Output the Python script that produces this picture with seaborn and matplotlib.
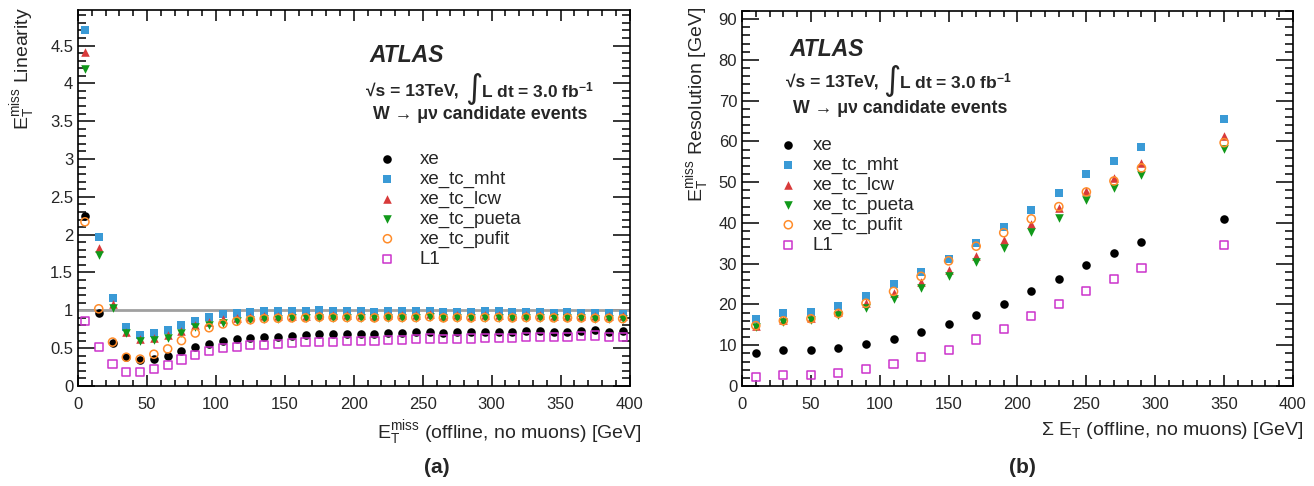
import numpy as np
import pandas as pd
import seaborn as sns
import matplotlib
matplotlib.use("Agg")
import matplotlib.pyplot as plt
from matplotlib.ticker import MultipleLocator, FuncFormatter

# --- data ---
met_bins = [5, 15, 25, 35, 45, 55, 65, 75, 85, 95, 105, 115, 125, 135, 145, 155, 165, 175, 185, 195,
            205, 215, 225, 235, 245, 255, 265, 275, 285, 295, 305, 315, 325, 335, 345, 355, 365, 375, 385, 395]

lin_xe = [2.25, 0.96, 0.565, 0.38, 0.34, 0.355, 0.39, 0.46, 0.51, 0.56, 0.595, 0.62, 0.64, 0.644, 0.653, 0.667,
          0.676, 0.684, 0.685, 0.686, 0.69, 0.69, 0.70, 0.70, 0.71, 0.72, 0.705, 0.71, 0.71, 0.715, 0.72, 0.715,
          0.725, 0.733, 0.72, 0.72, 0.725, 0.74, 0.72, 0.725]
lin_mht = [4.70, 1.97, 1.16, 0.78, 0.67, 0.70, 0.74, 0.80, 0.86, 0.91, 0.95, 0.965, 0.98, 0.985, 0.985, 0.99,
           0.99, 1.0, 0.99, 0.99, 0.99, 0.98, 0.99, 0.985, 0.985, 0.995, 0.98, 0.98, 0.975, 0.985, 0.985, 0.975,
           0.98, 0.98, 0.97, 0.975, 0.97, 0.965, 0.965, 0.955]
lin_lcw = [4.42, 1.82, 1.08, 0.72, 0.62, 0.63, 0.67, 0.73, 0.81, 0.85, 0.88, 0.90, 0.91, 0.92, 0.925, 0.93,
           0.93, 0.94, 0.935, 0.935, 0.935, 0.93, 0.94, 0.935, 0.935, 0.945, 0.93, 0.935, 0.93, 0.935, 0.935, 0.93,
           0.935, 0.935, 0.93, 0.93, 0.93, 0.925, 0.925, 0.92]
lin_pueta = [4.19, 1.73, 1.03, 0.70, 0.60, 0.61, 0.64, 0.70, 0.78, 0.80, 0.83, 0.86, 0.875, 0.885, 0.89, 0.895,
             0.895, 0.905, 0.90, 0.90, 0.90, 0.895, 0.905, 0.90, 0.90, 0.91, 0.895, 0.90, 0.895, 0.90, 0.90, 0.895,
             0.90, 0.90, 0.895, 0.895, 0.895, 0.89, 0.89, 0.885]
lin_pufit = [2.17, 1.02, 0.58, 0.38, 0.355, 0.42, 0.49, 0.60, 0.70, 0.77, 0.82, 0.855, 0.875, 0.89, 0.895, 0.90,
             0.90, 0.91, 0.905, 0.905, 0.905, 0.90, 0.91, 0.905, 0.905, 0.915, 0.90, 0.905, 0.90, 0.905, 0.905, 0.90,
             0.905, 0.905, 0.90, 0.90, 0.90, 0.895, 0.895, 0.89]
lin_l1 = [0.86, 0.52, 0.29, 0.19, 0.18, 0.23, 0.28, 0.35, 0.41, 0.465, 0.50, 0.52, 0.54, 0.547, 0.56, 0.57,
          0.578, 0.587, 0.587, 0.59, 0.60, 0.60, 0.61, 0.61, 0.618, 0.627, 0.618, 0.622, 0.627, 0.63, 0.635, 0.635,
          0.644, 0.653, 0.644, 0.648, 0.657, 0.667, 0.653, 0.653]

sumet_bins = [10, 30, 50, 70, 90, 110, 130, 150, 170, 190, 210, 230, 250, 270, 290, 350]
res_xe = [8.1, 8.8, 8.9, 9.4, 10.4, 11.5, 13.2, 15.2, 17.4, 20.1, 23.3, 26.2, 29.8, 32.7, 35.3, 41.0]
res_mht = [16.4, 17.8, 18.2, 19.7, 22.1, 25.0, 28.0, 31.1, 35.0, 38.9, 43.1, 47.3, 51.9, 55.1, 58.6, 65.5]
res_lcw = [14.8, 16.2, 16.6, 18.1, 20.4, 22.9, 25.5, 28.4, 31.8, 35.7, 39.7, 43.6, 47.9, 51.1, 54.6, 61.4]
res_pueta = [14.4, 15.7, 16.1, 17.4, 19.1, 21.4, 24.1, 27.0, 30.3, 33.8, 37.7, 41.2, 45.6, 48.5, 51.7, 58.2]
res_pufit = [14.8, 16.0, 16.5, 17.8, 20.3, 23.2, 26.9, 30.7, 34.3, 37.6, 41.0, 44.0, 47.6, 50.3, 53.5, 59.7]
res_l1 = [2.3, 2.7, 2.8, 3.2, 4.2, 5.3, 7.1, 8.9, 11.4, 14.0, 17.1, 20.1, 23.4, 26.2, 29.0, 34.6]

labels = ["xe", "xe_tc_mht", "xe_tc_lcw", "xe_tc_pueta", "xe_tc_pufit", "L1"]

# marker, colour, filled?
styles = {
    "xe": ("o", "black", True),
    "xe_tc_mht": ("s", "#3a9ad6", True),
    "xe_tc_lcw": ("^", "#d83a3a", True),
    "xe_tc_pueta": ("v", "#11991a", True),
    "xe_tc_pufit": ("o", "#ff8c2a", False),
    "L1": ("s", "#cc33cc", False),
}

sns.set_style("ticks")
plt.rcParams["font.family"] = ["Liberation Sans", "DejaVu Sans"]
plt.rcParams["mathtext.fontset"] = "custom"
plt.rcParams["mathtext.rm"] = "Liberation Sans"
plt.rcParams["mathtext.it"] = "Liberation Sans:italic"
plt.rcParams["mathtext.bf"] = "Liberation Sans:bold"
plt.rcParams["xtick.minor.visible"] = True
plt.rcParams["ytick.minor.visible"] = True

fig = plt.figure(figsize=(13.14, 4.86), dpi=100)
ax1 = fig.add_axes([0.0594, 0.2058, 0.4197, 0.7737])
ax2 = fig.add_axes([0.5647, 0.2058, 0.4193, 0.7716])


def draw(ax, x, series):
    for name, vals in zip(labels, series):
        m, c, filled = styles[name]
        if filled:
            sns.scatterplot(x=x, y=vals, ax=ax, marker=m, color=c, s=38,
                            linewidth=0, label=name, zorder=3)
        else:
            sns.scatterplot(x=x, y=vals, ax=ax, marker=m, facecolors="none",
                            edgecolor=c, s=34, linewidth=1.1, label=name, zorder=3)


def style_axes(ax, ymax, ymajor, yminor):
    ax.set_xlim(0, 400)
    ax.set_ylim(0, ymax)
    ax.xaxis.set_major_locator(MultipleLocator(50))
    ax.xaxis.set_minor_locator(MultipleLocator(10))
    ax.yaxis.set_major_locator(MultipleLocator(ymajor))
    ax.yaxis.set_minor_locator(MultipleLocator(yminor))
    ax.yaxis.set_major_formatter(FuncFormatter(lambda v, p: "%g" % v))
    ax.tick_params(which="both", direction="in", top=True, right=True, labelsize=12,
                   color="black")
    ax.tick_params(axis="y", which="major", length=12, width=1.1)
    ax.tick_params(axis="y", which="minor", length=6, width=1.1)
    ax.tick_params(axis="x", which="major", length=8, width=1.1, pad=8)
    ax.tick_params(axis="x", which="minor", length=4, width=1.1)
    for sp in ax.spines.values():
        sp.set_linewidth(1.2)
        sp.set_color("black")
    ax.set_xlabel("")
    ax.set_ylabel("")


# (a) linearity
ax1.axhline(1.0, color="#a0a0a0", lw=2, zorder=1)
draw(ax1, met_bins, [lin_xe, lin_mht, lin_lcw, lin_pueta, lin_pufit, lin_l1])

# (b) resolution
draw(ax2, sumet_bins, [res_xe, res_mht, res_lcw, res_pueta, res_pufit, res_l1])

# legends
ax1.legend(loc="upper left", bbox_to_anchor=(0.544, 0.625), frameon=False, fontsize=13.5,
           handlelength=1.0, handletextpad=1.2, labelspacing=0.14, borderpad=0, borderaxespad=0)
ax2.legend(loc="upper left", bbox_to_anchor=(0.067, 0.664), frameon=False, fontsize=13.5,
           handlelength=1.0, handletextpad=0.8, labelspacing=0.14, borderpad=0, borderaxespad=0)

style_axes(ax1, 4.97, 0.5, 0.1)
style_axes(ax2, 92, 10, 2)

# ATLAS labels: (ATLAS), (sqrt s), (integral), (L dt), (W -> mu nu)
for ax, pa, pb, pi, pl, pc in [
    (ax1, (0.529, 0.878), (0.522, 0.787), (0.718, 0.790), (0.731, 0.787), (0.535, 0.721)),
    (ax2, (0.087, 0.896), (0.079, 0.811), (0.271, 0.814), (0.285, 0.811), (0.093, 0.739)),
]:
    ax.text(*pa, "ATLAS", transform=ax.transAxes, fontsize=16.5, fontweight="bold",
            fontstyle="italic", ha="left", va="center")
    ax.text(*pb, "\u221as = 13TeV,", transform=ax.transAxes, fontsize=12.5,
            fontweight="bold", ha="left", va="center")
    ax.text(*pi, "\u222b", transform=ax.transAxes, fontsize=24, ha="center", va="center",
            family="DejaVu Sans")
    ax.text(*pl, r"L dt = 3.0 fb$^{\mathbf{-1}}$", transform=ax.transAxes, fontsize=12.5,
            fontweight="bold", ha="left", va="center")
    ax.text(*pc, "W \u2192 \u03bc\u03bd candidate events", transform=ax.transAxes,
            fontsize=12.8, fontweight="bold", ha="left", va="center")

# axis titles (ROOT style: aligned to the axis ends)
fig.text(642 / 1314, 1 - 433 / 486, r"$\mathrm{E}_{\mathrm{T}}^{\mathrm{miss}}$ (offline, no muons) [GeV]",
         ha="right", va="center", fontsize=14)
fig.text(1303 / 1314, 1 - 430 / 486, r"$\Sigma$ $\mathrm{E}_{\mathrm{T}}$ (offline, no muons) [GeV]",
         ha="right", va="center", fontsize=14)
fig.text(23 / 1314, 1 - 7 / 486, r"$\mathrm{E}_{\mathrm{T}}^{\mathrm{miss}}$ Linearity",
         rotation=90, ha="center", va="top", fontsize=14)
fig.text(697 / 1314, 1 - 7 / 486, r"$\mathrm{E}_{\mathrm{T}}^{\mathrm{miss}}$ Resolution [GeV]",
         rotation=90, ha="center", va="top", fontsize=14)

fig.text(437 / 1314, 1 - 467 / 486, "(a)", ha="center", va="center", fontsize=15, fontweight="bold")
fig.text(1022 / 1314, 1 - 467 / 486, "(b)", ha="center", va="center", fontsize=15, fontweight="bold")

fig.savefig("out.png", dpi=100, facecolor="white")
